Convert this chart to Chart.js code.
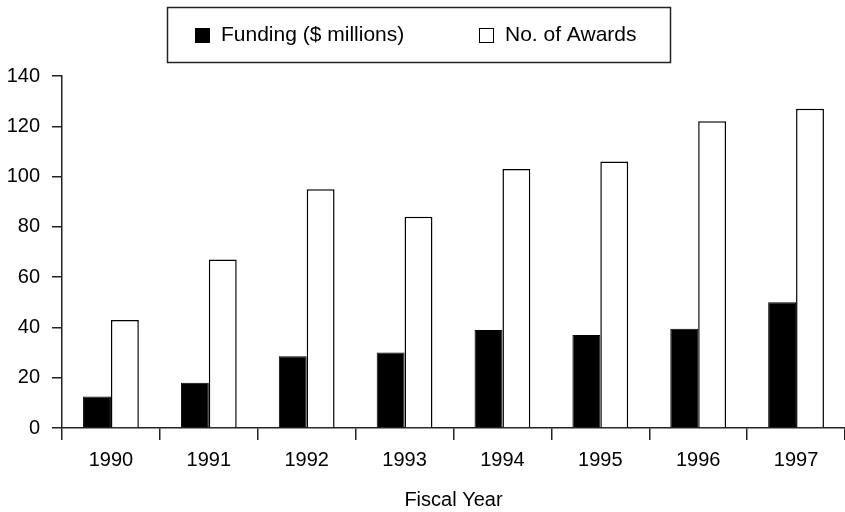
<!DOCTYPE html>
<html>
<head>
<meta charset="utf-8">
<script src="https://cdn.jsdelivr.net/npm/chart.js@4.4.1/dist/chart.umd.min.js"></script>
<style>
  html, body { margin: 0; padding: 0; background: #fff; }
  #wrap { width: 845px; height: 512px; }
</style>
</head>
<body>
<div id="wrap"><canvas id="myChart"></canvas></div>
<script>
const anos = ['1990', '1991', '1992', '1993', '1994', '1995', '1996', '1997'];
const funding = [12.5, 18, 28.5, 30, 39, 37, 39.5, 50];
const awards = [43, 67, 95, 84, 103, 106, 122, 127];
const yTicks = [0, 20, 40, 60, 80, 100, 120, 140];

const fonte = '"Liberation Sans", Arial, Helvetica, sans-serif';

// legenda com moldura, desenhada à mão
const legendaCaixa = {
    id: 'legendaCaixa',
    afterDraw(chart) {
        const ctx = chart.ctx;
        ctx.save();
        ctx.strokeStyle = '#222';
        ctx.lineWidth = 1.5;
        ctx.strokeRect(167.5, 7.5, 503, 55);

        const itens = [
            { ds: chart.data.datasets[0], x: 195 },
            { ds: chart.data.datasets[1], x: 479 }
        ];
        ctx.font = '21px ' + fonte;
        ctx.textBaseline = 'middle';
        itens.forEach(item => {
            ctx.fillStyle = item.ds.backgroundColor;
            ctx.fillRect(item.x, 28, 14, 14);
            ctx.strokeStyle = '#000';
            ctx.lineWidth = 1;
            ctx.strokeRect(item.x + 0.5, 28.5, 14, 14);
            ctx.fillStyle = '#000';
            ctx.fillText(item.ds.label, item.x + 26, 35);
        });
        ctx.restore();
    }
};

const ctx = document.getElementById('myChart').getContext('2d');
new Chart(ctx, {
    type: 'bar',
    data: {
        labels: anos,
        datasets: [{
            label: 'Funding ($ millions)',
            data: funding,
            backgroundColor: '#000',
            borderColor: '#000',
            borderWidth: 1,
            categoryPercentage: 0.57,
            barPercentage: 1.0
        }, {
            label: 'No. of Awards',
            data: awards,
            backgroundColor: '#fff',
            borderColor: '#000',
            borderWidth: 1.5,
            categoryPercentage: 0.57,
            barPercentage: 1.0
        }]
    },
    options: {
        responsive: true,
        maintainAspectRatio: false,
        animation: false,
        layout: {
            padding: { top: 76, left: 0, right: 0, bottom: 0 }
        },
        plugins: {
            legend: { display: false },
            tooltip: { enabled: false }
        },
        scales: {
            x: {
                offset: true,
                grid: {
                    offset: true,
                    drawOnChartArea: false,
                    drawTicks: true,
                    tickLength: 12,
                    color: '#222',
                    lineWidth: 1.5
                },
                border: { color: '#222', width: 1.5 },
                ticks: {
                    color: '#000',
                    padding: 8,
                    font: { family: fonte, size: 20 }
                },
                title: {
                    display: true,
                    text: 'Fiscal Year',
                    color: '#000',
                    font: { family: fonte, size: 20 },
                    padding: { top: 8, bottom: 0 }
                }
            },
            y: {
                min: 0,
                max: 140,
                afterBuildTicks: scale => {
                    scale.ticks = yTicks.map(v => ({ value: v }));
                },
                afterFit: scale => { scale.width = 62; },
                grid: {
                    drawOnChartArea: false,
                    drawTicks: true,
                    tickLength: 10,
                    color: '#222',
                    lineWidth: 1.5
                },
                border: { color: '#222', width: 1.5 },
                ticks: {
                    color: '#000',
                    padding: 12,
                    font: { family: fonte, size: 20 }
                }
            }
        }
    },
    plugins: [legendaCaixa]
});
</script>
</body>
</html>
